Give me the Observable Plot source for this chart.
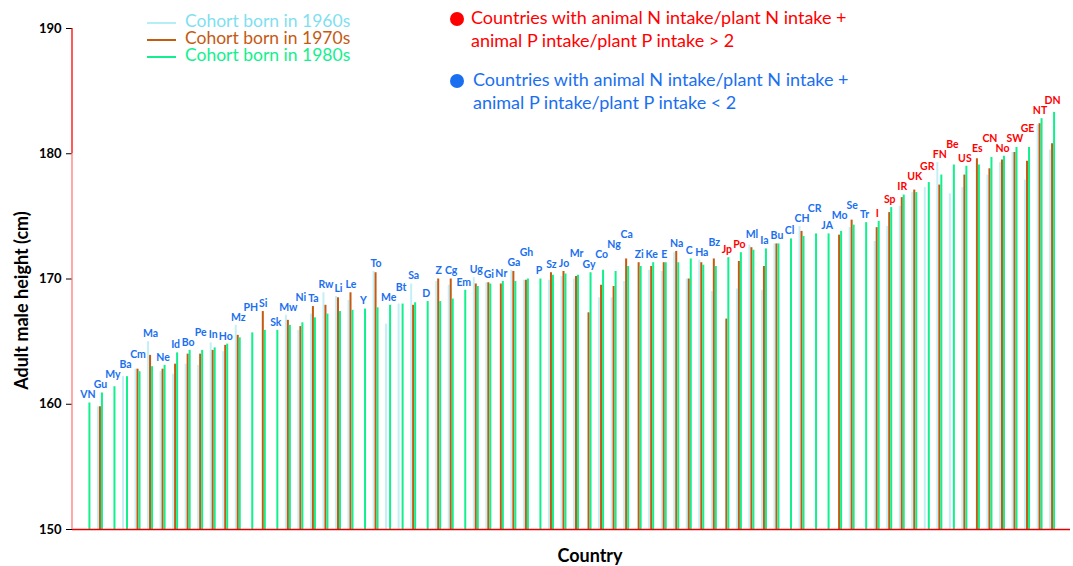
<!DOCTYPE html>
<html><head><meta charset="utf-8">
<script src="https://cdn.jsdelivr.net/npm/d3@7"></script>
<script src="https://cdn.jsdelivr.net/npm/@observablehq/plot@0.6"></script>
<style>
body{margin:0;background:#fff;}
#chart{position:relative;width:1073px;height:566px;}
</style>
</head><body><div id="chart"></div>
<script>
// ---- data ----
const countries = ["VN","Gu","My","Ba","Cm","Ma","Ne","Id","Bo","Pe","In","Ho","Mz","PH","Si","Sk","Mw","Ni","Ta","Rw","Li","Le","Y","To","Me","Bt","Sa","D","Z","Cg","Em","Ug","Gi","Nr","Ga","Gh","P","Sz","Jo","Mr","Gy","Co","Ng","Ca","Zi","Ke","E","Na","C","Ha","Bz","Jp","Po","Ml","Ia","Bu","Cl","CH","CR","JA","Mo","Se","Tr","I","Sp","IR","UK","GR","FN","Be","US","Es","CN","No","SW","GE","NT","DN"];
const highRatio = ["Jp","Po","I","Sp","IR","UK","GR","FN","Be","US","Es","CN","No","SW","GE","NT","DN"];
const cohort1960 = [null,159.8,null,162.2,162.8,165.0,162.6,162.4,163.2,163.1,164.9,164.2,166.3,null,null,null,167.1,165.9,167.2,168.9,168.6,168.3,null,170.6,166.4,168.0,169.6,null,169.8,169.5,null,170.1,169.7,null,170.7,169.9,null,169.9,170.2,170.0,null,168.5,168.5,169.8,null,170.7,170.6,172.1,170.0,171.5,169.0,null,169.2,172.7,169.1,172.8,null,174.2,null,null,null,174.1,null,173.0,174.2,175.8,176.9,177.3,179.3,176.8,177.3,null,178.3,179.3,180.1,177.9,182.3,180.3];
const cohort1970 = [null,159.8,null,null,162.8,163.9,162.8,163.2,164.0,164.0,164.3,164.7,165.5,null,167.4,null,166.7,166.2,167.8,167.9,168.5,168.9,null,170.5,null,null,167.9,null,170.0,170.0,null,169.6,169.7,169.6,170.6,169.9,null,170.5,170.6,170.2,167.3,169.5,169.4,171.6,171.3,171.0,171.3,172.2,170.0,171.3,171.6,166.8,171.4,172.5,171.0,172.8,null,173.8,null,null,173.5,174.7,null,174.1,175.3,176.5,177.1,null,177.5,null,178.3,179.6,178.8,179.5,180.1,179.4,182.4,180.8];
const cohort1980 = [160.1,160.9,161.4,162.2,162.6,163.0,163.1,164.1,164.3,164.3,164.5,164.8,165.3,165.7,165.9,165.9,166.3,166.5,166.9,167.2,167.4,167.5,167.6,167.7,167.9,168.0,168.1,168.2,168.2,168.4,169.1,169.4,169.6,169.8,169.8,170.0,170.0,170.3,170.4,170.3,170.5,170.7,170.6,171.0,171.0,171.3,171.3,171.3,171.6,171.1,171.0,171.7,172.1,172.3,172.4,172.8,173.2,173.4,173.6,173.6,173.8,174.3,174.5,174.6,175.7,176.7,176.9,177.7,178.3,179.1,179.0,179.1,179.7,179.8,180.5,180.5,182.8,183.3];
const cohortNames = ["Cohort born in 1960s","Cohort born in 1970s","Cohort born in 1980s"];
const yTicks = [150,160,170,180,190];
const legendRatio = [
  ["Countries with animal N intake/plant N intake +","animal P intake/plant P intake > 2"],
  ["Countries with animal N intake/plant N intake +","animal P intake/plant P intake < 2"]
];

// ---- styles ----
const barColors = ["#c4eff6","#c55a11","#12f08e"];
const legendLineColors = ["#b4eef6","#c55a11","#12f08e"];
const legendTextColors = ["#7fdff1","#c55a11","#12f08e"];
const RED = "#ff0000", BLUE = "#1a6ff0";
const FONT = "Lato, 'Open Sans', sans-serif";
const LABEL_SIZE = 10.5;

const W = 1073, H = 566, ML = 72, MR = 3, MT = 28, MB = 37;
const offsets = [-2, 0, 2];
const xOpts = {domain: countries, paddingInner: 0.84, paddingOuter: 1.25, align: 0.46};
const yOpts = {domain: [150, 190]};

const seriesValues = [cohort1960, cohort1970, cohort1980];
const rows = [];
countries.forEach((c, i) => seriesValues.forEach((vals, s) => {
  if (vals[i] != null) rows.push({country: c, cohort: s, value: vals[i]});
}));

// label placement: above the tallest bar, nudged up when it would collide with its left neighbour
const xs = Plot.scale({x: {...xOpts, type: "band", range: [ML, W - MR]}});
const ys = Plot.scale({y: {...yOpts, range: [H - MB, MT]}});
const ctx = document.createElement("canvas").getContext("2d");
ctx.font = `bold ${LABEL_SIZE}px Lato`;
const labelRows = [];
countries.forEach((c, i) => {
  const top = d3.max(seriesValues, v => v[i]);
  const px = xs.apply(c) + xs.bandwidth / 2;
  const w = ctx.measureText(c).width;
  let py = ys.apply(top) - 8;
  const p = labelRows[labelRows.length - 1];
  if (p && Math.abs(px - p.px) < (w + p.w) / 2 + 0.5 && Math.abs(py - p.py) < 9) py = p.py - 10;
  labelRows.push({country: c, px, w, py, labelY: ys.invert(py), high: highRatio.includes(c)});
});

const plot = Plot.plot({
  width: W, height: H,
  marginLeft: ML, marginRight: MR, marginTop: MT, marginBottom: MB,
  style: {fontFamily: FONT, background: "white", color: "black"},
  x: {...xOpts, axis: null},
  y: {...yOpts, axis: null},
  marks: [
    ...[0,1,2].map(s => Plot.barY(rows.filter(r => r.cohort === s), {
      x: "country", y1: 150, y2: "value", fill: barColors[s], dx: offsets[s]
    })),
    Plot.ruleY([150], {stroke: "#e00000", strokeWidth: 1.5}),
    Plot.axisY({ticks: yTicks, tickSize: 6, tickPadding: 5, fontSize: 13, fontWeight: "bold", label: null, stroke: "black"}),
    Plot.text(labelRows, {
      x: "country", y: "labelY", text: "country",
      fill: d => d.high ? RED : BLUE, fontWeight: "bold", fontSize: LABEL_SIZE
    })
  ]
});
document.getElementById("chart").appendChild(plot);

// ---- decorations using the plot's scales ----
const y = plot.scale("y");
const svg = d3.select(plot);
svg.append("line").attr("x1", ML).attr("x2", ML)
  .attr("y1", y.apply(190)).attr("y2", y.apply(180)).attr("stroke", "#ff0000").attr("stroke-width", 1.3);
svg.append("line").attr("x1", ML).attr("x2", ML)
  .attr("y1", y.apply(180)).attr("y2", y.apply(150)).attr("stroke", "#ff7a7a").attr("stroke-width", 1.3);

svg.append("text").attr("transform", `translate(23,${(y.apply(150)+y.apply(190))/2 + 22}) rotate(-90)`)
  .attr("text-anchor", "middle").attr("dominant-baseline", "middle")
  .attr("font-family", FONT).attr("font-weight", "bold").attr("font-size", 18).text("Adult male height (cm)");
svg.append("text").attr("x", 590).attr("y", 557)
  .attr("text-anchor", "middle").attr("dominant-baseline", "middle")
  .attr("font-family", FONT).attr("font-weight", "bold").attr("font-size", 18).text("Country");

// cohort legend
cohortNames.forEach((name, i) => {
  const ly = 23 + i * 17;
  svg.append("line").attr("x1", 147).attr("x2", 176).attr("y1", ly).attr("y2", ly)
    .attr("stroke", legendLineColors[i]).attr("stroke-width", 2);
  svg.append("text").attr("x", 185).attr("y", ly).attr("text-anchor", "start").attr("dominant-baseline", "middle")
    .attr("font-family", FONT).attr("font-size", 17.5).attr("fill", legendTextColors[i]).text(name);
});

// ratio legend
legendRatio.forEach((lines, i) => {
  const cy = 19 + i * 62;
  const col = i === 0 ? RED : BLUE;
  svg.append("circle").attr("cx", 457).attr("cy", cy).attr("r", 7).attr("fill", col);
  lines.forEach((t, j) => {
    svg.append("text").attr("x", 471 + (i === 1 ? 2 : 0)).attr("y", cy + j * 23.5)
      .attr("text-anchor", "start").attr("dominant-baseline", "middle")
      .attr("font-family", FONT).attr("font-size", 18).attr("fill", col).text(t);
  });
});
</script>
</body></html>
